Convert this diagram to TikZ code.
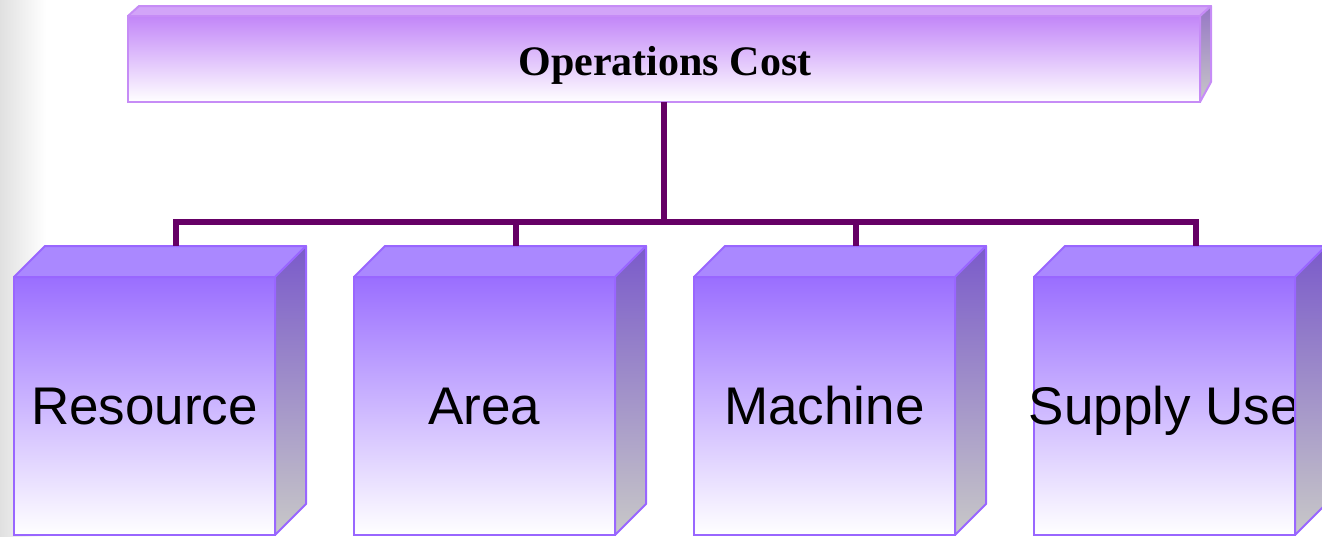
\documentclass[tikz,border=0pt]{standalone}
\usepackage{fontspec}
\setmainfont{Liberation Serif}
\newfontfamily\arialfont{Liberation Sans}
\usetikzlibrary{calc}
\definecolor{topfront}{HTML}{C286F8}
\definecolor{topmid}{HTML}{E6D4FC}
\definecolor{topborder}{HTML}{C68CF6}
\definecolor{toptopface}{HTML}{D2A4F8}
\definecolor{topside}{HTML}{9676C6}
\definecolor{cubefrontc}{HTML}{9A6EFF}
\definecolor{cubemid}{HTML}{C8B2FF}
\definecolor{cubeborder}{HTML}{9966FF}
\definecolor{cubetopc}{HTML}{AA88FF}
\definecolor{cubeside}{HTML}{7A5ACA}
\definecolor{sidegray}{HTML}{C8C8C8}
\definecolor{conncol}{HTML}{660066}
\tikzset{
  opsfront/.style={draw=topborder, line width=2pt, inner sep=0pt, outer sep=0pt,
    top color=topfront, middle color=topmid, bottom color=white,
    minimum width=1072pt, minimum height=86pt},
  opslabel/.style={anchor=base, inner sep=0pt, font=\bfseries\fontsize{42}{50}\selectfont},
  opstop/.style={draw=topborder, line width=2pt, fill=toptopface, line join=round},
  opsside/.style={draw=topborder, line width=2pt, top color=topside, bottom color=sidegray, line join=round},
  cubefront/.style={draw=cubeborder, line width=2pt, inner sep=0pt, outer sep=0pt,
    top color=cubefrontc, middle color=cubemid, bottom color=white,
    minimum width=261pt, minimum height=258pt},
  cubelabel/.style={anchor=base, inner sep=0pt, font=\arialfont\fontsize{53}{62}\selectfont},
  cubetop/.style={draw=cubeborder, line width=2pt, fill=cubetopc, line join=round},
  cubeside/.style={draw=cubeborder, line width=2pt, top color=cubeside, bottom color=sidegray, line join=round},
  conn/.style={draw=conncol, line width=6pt, line join=miter}
}
\begin{document}
\begin{tikzpicture}[x=1pt,y=-1pt]
\useasboundingbox (0,0) rectangle (1322,536);
\clip (0,0) rectangle (1322,536);
% slide shadow at the left margin
\shade[left color=black!12, right color=white] (0,0) rectangle (46,536);
% top box
\node[opsfront] (ops) at (664,59) {};
\node[opslabel] (opstext) at (665,75) {Operations Cost};
\filldraw[opstop] (ops.north west) -- ++(11,-10) -- ++(1072,0) -- (ops.north east) -- cycle;
\filldraw[opsside] (ops.north east) -- ++(11,-10) -- ++(0,76) -- (ops.south east) -- cycle;
% cubes
\foreach \i/\cx/\txt in {1/144.5/Resource, 2/484.5/Area, 3/824.5/Machine, 4/1164.5/Supply Use}{
  \node[cubefront] (c\i) at (\cx,406) {};
  \node[cubelabel] (l\i) at (\cx,424) {\txt};
  \filldraw[cubetop] (c\i.north west) -- ++(31,-31) -- ++(261,0) -- (c\i.north east) -- cycle;
  \filldraw[cubeside] (c\i.north east) -- ++(31,-31) -- ++(0,258) -- (c\i.south east) -- cycle;
  \coordinate (t\i) at ($(c\i.north)+(31,-31)$);
}
% connectors
\coordinate (bus) at (665,222);
\draw[conn] (ops.south) -- (ops.south |- bus);
\draw[conn] (t1) -- (t1 |- bus) -- (t4 |- bus) -- (t4);
\draw[conn] (t2) -- (t2 |- bus);
\draw[conn] (t3) -- (t3 |- bus);
\end{tikzpicture}
\end{document}
